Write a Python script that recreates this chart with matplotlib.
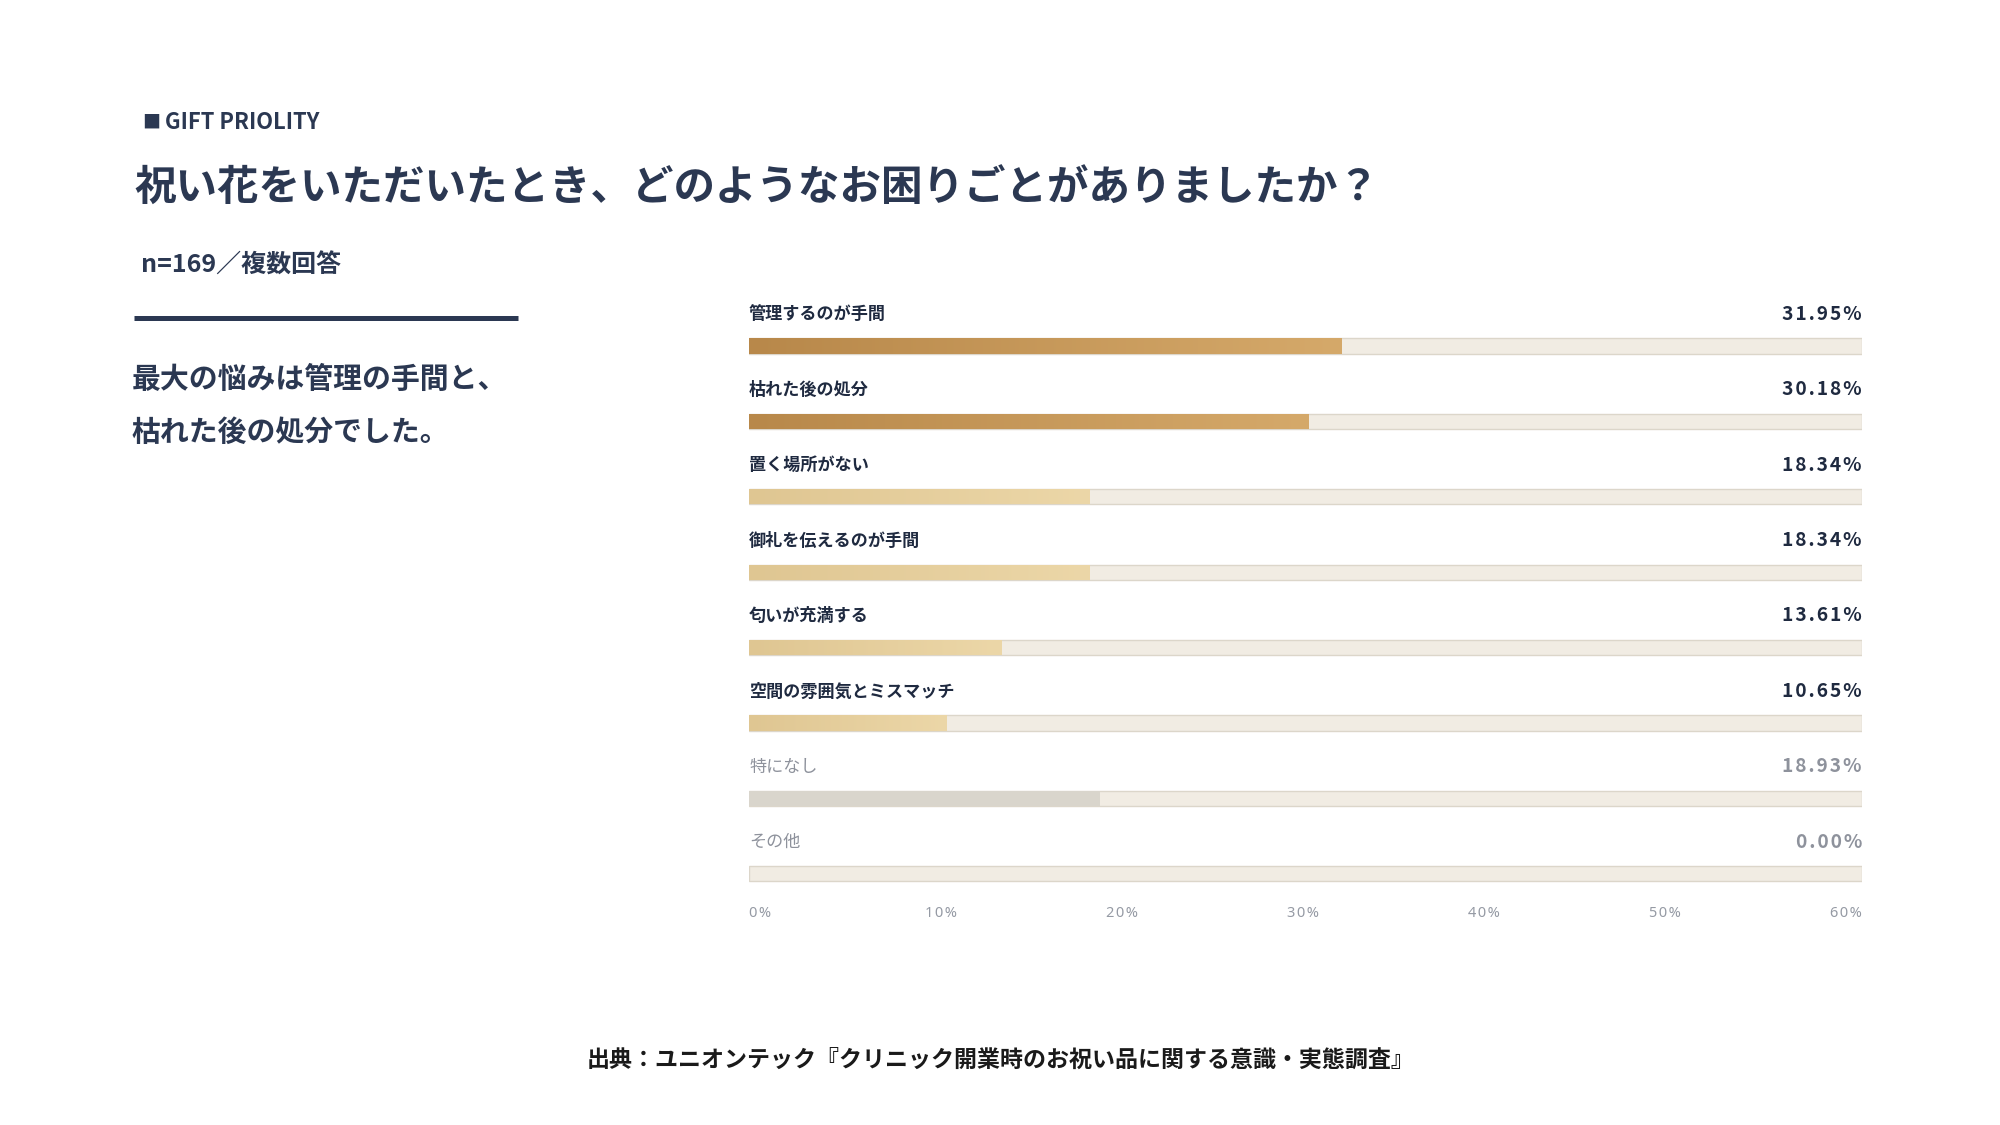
import matplotlib
matplotlib.use("Agg")
import matplotlib.pyplot as plt
import numpy as np
from matplotlib.colors import LinearSegmentedColormap

plt.rcParams['font.family'] = ['Noto Sans CJK JP', 'DejaVu Sans']

# ---------------- data ----------------
categories = ["管理するのが手間", "枯れた後の処分", "置く場所がない", "御礼を伝えるのが手間",
              "匂いが充満する", "空間の雰囲気とミスマッチ", "特になし", "その他"]
values = [31.95, 30.18, 18.34, 18.34, 13.61, 10.65, 18.93, 0.00]
muted_categories = ["特になし", "その他"]
tick_values = [0, 10, 20, 30, 40, 50, 60]
tick_labels = ["0%", "10%", "20%", "30%", "40%", "50%", "60%"]

kicker_mark = "■"
kicker = "GIFT PRIOLITY"
title = "祝い花をいただいたとき、どのようなお困りごとがありましたか？"
subtitle = "n=169／複数回答"
summary_lines = ["最大の悩みは管理の手間と、", "枯れた後の処分でした。"]
source = "出典：ユニオンテック『クリニック開業時のお祝い品に関する意識・実態調査』"

# ---------------- style ----------------
W, H = 2000, 1125
NAVY = "#2b3852"
LABEL = "#1f2a40"
GRAY = "#8e929c"
TRACK = "#f1ece3"
TRACK_EDGE = "#dcd6ca"
dark_cmap = LinearSegmentedColormap.from_list("dark", ["#b8884a", "#d5a96a"])
light_cmap = LinearSegmentedColormap.from_list("light", ["#dfc692", "#ecd7a8"])
muted_color = "#d9d5cc"

fig = plt.figure(figsize=(W / 100, H / 100), dpi=100)
fig.patch.set_facecolor("white")

def fx(px):
    return px / W

def fy(py):
    return 1 - py / H

# header texts
fig.text(fx(142), fy(123), kicker_mark, fontsize=13, color=NAVY, va="center", ha="left")
fig.text(fx(165), fy(123), kicker, fontsize=15.8, fontweight="bold", color=NAVY, va="center", ha="left")
fig.text(fx(134), fy(189), title, fontsize=29.9, fontweight="bold", color=NAVY, va="center", ha="left")
fig.text(fx(141), fy(266), subtitle, fontsize=18, fontweight="bold", color=NAVY, va="center", ha="left")
fig.add_artist(plt.Line2D([fx(134), fx(518)], [fy(318), fy(318)], color=NAVY, lw=3.6,
                          transform=fig.transFigure, solid_capstyle="butt"))
for k, line in enumerate(summary_lines):
    fig.text(fx(132), fy(379 + 53 * k), line, fontsize=20.8, fontweight="bold", color=NAVY,
             va="center", ha="left")
fig.text(fx(1001), fy(1060), source, fontsize=16.55, fontweight="bold", color="#1a1a1a",
         va="center", ha="center")

# ---------------- bar axes ----------------
left_px, right_px = 749, 1862
row0, step = 346, 75.4
n = len(categories)
top_px = row0 - 0.5 * step
bot_px = row0 + (n - 0.5) * step
ax = fig.add_axes([fx(left_px), fy(bot_px), fx(right_px - left_px), (bot_px - top_px) / H])
ax.set_xlim(0, 60)
ax.set_ylim(n - 0.5, -0.5)
ax.axis("off")

bar_h = 0.2
ys = np.arange(n)
# background tracks
ax.barh(ys, [60] * n, height=bar_h, color=TRACK, edgecolor=TRACK_EDGE, linewidth=1.0, zorder=1)

grad = np.linspace(0, 1, 256).reshape(1, -1)
for i, (cat, v) in enumerate(zip(categories, values)):
    muted = cat in muted_categories
    if v > 0:
        bar = ax.barh(i, v, height=bar_h, color=muted_color if muted else "none",
                      edgecolor="none", zorder=2)[0]
        if not muted:
            cmap = dark_cmap if v >= 30 else light_cmap
            im = ax.imshow(grad, extent=[0, v, i + bar_h / 2, i - bar_h / 2], aspect="auto",
                           cmap=cmap, zorder=3, interpolation="bicubic")
            im.set_clip_path(bar)
    lab_y = i - 0.42
    ax.text(0, lab_y, cat, fontsize=12.3, fontweight="bold" if not muted else "normal",
            color=GRAY if muted else LABEL, ha="left", va="center")
    ax.text(60, lab_y, "\u200a".join(f"{v:.2f}%"), fontsize=13.8, fontweight="bold",
            color=GRAY if muted else LABEL, ha="right", va="center",
            family=["Noto Sans CJK JP", "DejaVu Sans"])

ax.set_xlim(0, 60)
ax.set_ylim(n - 0.5, -0.5)

# tick labels laid out like a space-between row under the bars
tick_y = n - 1 + (914 - (row0 + (n - 1) * step)) / step
tick_texts = []
for tv, tl in zip(tick_values, tick_labels):
    t = ax.text(tv, tick_y, "\u200a".join(tl), fontsize=10.5, color="#959aa4", ha="center",
                va="center", clip_on=False, family=["Noto Sans", "DejaVu Sans"])
    tick_texts.append(t)
fig.canvas.draw()
r = fig.canvas.get_renderer()
widths = [t.get_window_extent(r).width for t in tick_texts]
x0c = widths[0] / 2
x1c = (right_px - left_px) - widths[-1] / 2
for k, t in enumerate(tick_texts):
    cpx = x0c + (x1c - x0c) * k / (len(tick_texts) - 1)
    t.set_x(cpx / (right_px - left_px) * 60)

fig.savefig("out.png", dpi=100, facecolor="white")
